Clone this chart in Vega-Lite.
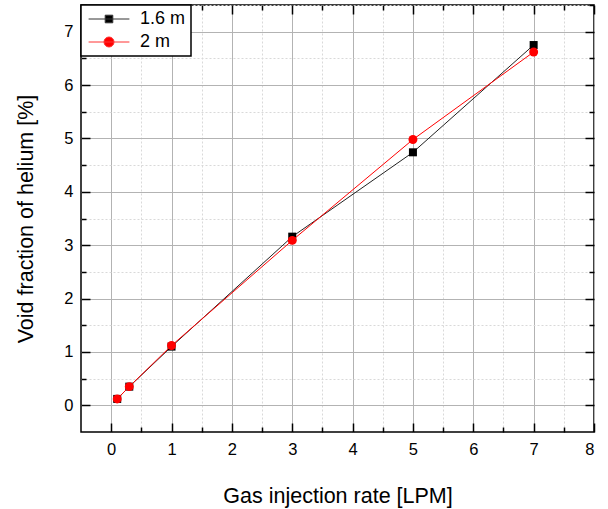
{
  "$schema": "https://vega.github.io/schema/vega-lite/v6.json",
  "width": 513,
  "height": 427,
  "autosize": {"type": "none"},
  "padding": {"left": 81, "top": 5, "right": 14, "bottom": 77},
  "config": {
    "view": {"stroke": "black", "strokeWidth": 1.5},
    "font": "Liberation Sans",
    "axis": {
      "domain": false,
      "labelFontSize": 16.5,
      "titleFontSize": 21.5,
      "titleFontWeight": "normal",
      "labelColor": "black",
      "titleColor": "black",
      "tickColor": "black",
      "tickWidth": 1.5
    },
    "legend": {
      "orient": "top-left",
      "offset": 0,
      "strokeColor": "black",
      "strokeWidth": 1.5,
      "fillColor": "white",
      "padding": 5,
      "labelFontSize": 18,
      "labelColor": "black",
      "symbolSize": 64,
      "symbolStrokeWidth": 1,
      "symbolOpacity": 1,
      "rowPadding": 5,
      "symbolOffset": 14,
      "labelOffset": 22
    }
  },
  "data": {
    "values": [
      {"rate": 0.1, "void": 0.12, "series": "1.6 m"},
      {"rate": 0.3, "void": 0.35, "series": "1.6 m"},
      {"rate": 1, "void": 1.1, "series": "1.6 m"},
      {"rate": 3, "void": 3.16, "series": "1.6 m"},
      {"rate": 5, "void": 4.74, "series": "1.6 m"},
      {"rate": 7, "void": 6.75, "series": "1.6 m"},
      {"rate": 0.1, "void": 0.12, "series": "2 m"},
      {"rate": 0.3, "void": 0.35, "series": "2 m"},
      {"rate": 1, "void": 1.12, "series": "2 m"},
      {"rate": 3, "void": 3.09, "series": "2 m"},
      {"rate": 5, "void": 4.98, "series": "2 m"},
      {"rate": 7, "void": 6.62, "series": "2 m"}
    ]
  },
  "layer": [
    {
      "transform": [{"filter": "datum.series === '1.6 m'"}],
      "mark": {"type": "line", "strokeWidth": 1, "color": "#222222"},
      "encoding": {
        "x": {
          "field": "rate", "type": "quantitative",
          "scale": {"domain": [-0.5, 8], "nice": false, "zero": false},
          "axis": {
            "title": "Gas injection rate [LPM]",
            "values": [0, 0.5, 1, 1.5, 2, 2.5, 3, 3.5, 4, 4.5, 5, 5.5, 6, 6.5, 7, 7.5, 8],
            "labelExpr": "datum.value % 1 === 0 ? format(datum.value, 'd') : ''",
            "ticks": false,
            "gridColor": {"condition": {"test": "datum.value % 1 !== 0", "value": "#d9d9d9"}, "value": "#b3b3b3"},
            "gridDash": {"condition": {"test": "datum.value % 1 !== 0", "value": [2, 2]}, "value": []},
            "labelPadding": 9,
            "titlePadding": 28
          }
        },
        "y": {
          "field": "void", "type": "quantitative",
          "scale": {"domain": [-0.5, 7.5], "nice": false, "zero": false},
          "axis": {
            "title": "Void fraction of helium [%]",
            "values": [0, 0.5, 1, 1.5, 2, 2.5, 3, 3.5, 4, 4.5, 5, 5.5, 6, 6.5, 7, 7.5],
            "labelExpr": "datum.value % 1 === 0 ? format(datum.value, 'd') : ''",
            "ticks": false,
            "gridColor": {"condition": {"test": "datum.value % 1 !== 0", "value": "#d9d9d9"}, "value": "#b3b3b3"},
            "gridDash": {"condition": {"test": "datum.value % 1 !== 0", "value": [2, 2]}, "value": []},
            "labelPadding": 8,
            "titlePadding": 26
          }
        }
      }
    },
    {
      "transform": [{"filter": "datum.series === '1.6 m'"}],
      "mark": {"type": "point", "filled": true, "opacity": 1, "shape": "square", "size": 64, "color": "black"},
      "encoding": {
        "x": {
          "field": "rate", "type": "quantitative",
          "axis": {"orient": "bottom", "title": null, "labels": false, "grid": false, "offset": -9, "tickSize": 9, "values": [0, 1, 2, 3, 4, 5, 6, 7, 8]}
        },
        "y": {
          "field": "void", "type": "quantitative",
          "axis": {"orient": "left", "title": null, "labels": false, "grid": false, "offset": -9, "tickSize": 9, "values": [0, 1, 2, 3, 4, 5, 6, 7]}
        }
      }
    },
    {
      "transform": [{"filter": "datum.series === '2 m'"}],
      "mark": {"type": "line", "strokeWidth": 1, "color": "red"},
      "encoding": {
        "x": {
          "field": "rate", "type": "quantitative",
          "axis": {"orient": "top", "title": null, "labels": false, "grid": false, "offset": -9, "tickSize": 9, "values": [0, 1, 2, 3, 4, 5, 6, 7, 8]}
        },
        "y": {
          "field": "void", "type": "quantitative",
          "axis": {"orient": "right", "title": null, "labels": false, "grid": false, "offset": -9, "tickSize": 9, "values": [0, 1, 2, 3, 4, 5, 6, 7]}
        }
      }
    },
    {
      "transform": [{"filter": "datum.series === '2 m'"}],
      "mark": {"type": "point", "filled": true, "opacity": 1, "shape": "circle", "size": 80, "color": "red"},
      "encoding": {
        "x": {
          "field": "rate", "type": "quantitative",
          "axis": {"orient": "bottom", "title": null, "labels": false, "grid": false, "offset": -5, "tickSize": 5, "values": [0.5, 1.5, 2.5, 3.5, 4.5, 5.5, 6.5, 7.5]}
        },
        "y": {
          "field": "void", "type": "quantitative",
          "axis": {"orient": "left", "title": null, "labels": false, "grid": false, "offset": -5, "tickSize": 5, "values": [0.5, 1.5, 2.5, 3.5, 4.5, 5.5, 6.5, 7.5]}
        }
      }
    },
    {
      "mark": {"type": "point", "opacity": 0, "strokeWidth": 1},
      "encoding": {
        "x": {
          "field": "rate", "type": "quantitative",
          "axis": {"orient": "top", "title": null, "labels": false, "grid": false, "offset": -5, "tickSize": 5, "values": [0.5, 1.5, 2.5, 3.5, 4.5, 5.5, 6.5, 7.5]}
        },
        "y": {
          "field": "void", "type": "quantitative",
          "axis": {"orient": "right", "title": null, "labels": false, "grid": false, "offset": -5, "tickSize": 5, "values": [0.5, 1.5, 2.5, 3.5, 4.5, 5.5, 6.5, 7.5]}
        },
        "fill": {
          "field": "series", "type": "nominal",
          "scale": {"domain": ["1.6 m", "2 m"], "range": ["black", "red"]},
          "legend": {"title": null}
        },
        "stroke": {
          "field": "series", "type": "nominal",
          "scale": {"domain": ["1.6 m", "2 m"], "range": ["#333333", "#ff3333"]},
          "legend": {"title": null}
        },
        "shape": {
          "field": "series", "type": "nominal",
          "scale": {
            "domain": ["1.6 m", "2 m"],
            "range": [
              "M-5.1,0H5.1M-0.95,-0.95H0.95V0.95H-0.95Z",
              "M-5.1,0H5.1M1.25,0A1.25,1.25,0,1,1,-1.25,0A1.25,1.25,0,1,1,1.25,0Z"
            ]
          },
          "legend": {"title": null}
        }
      }
    }
  ],
  "resolve": {"axis": {"x": "independent", "y": "independent"}}
}
